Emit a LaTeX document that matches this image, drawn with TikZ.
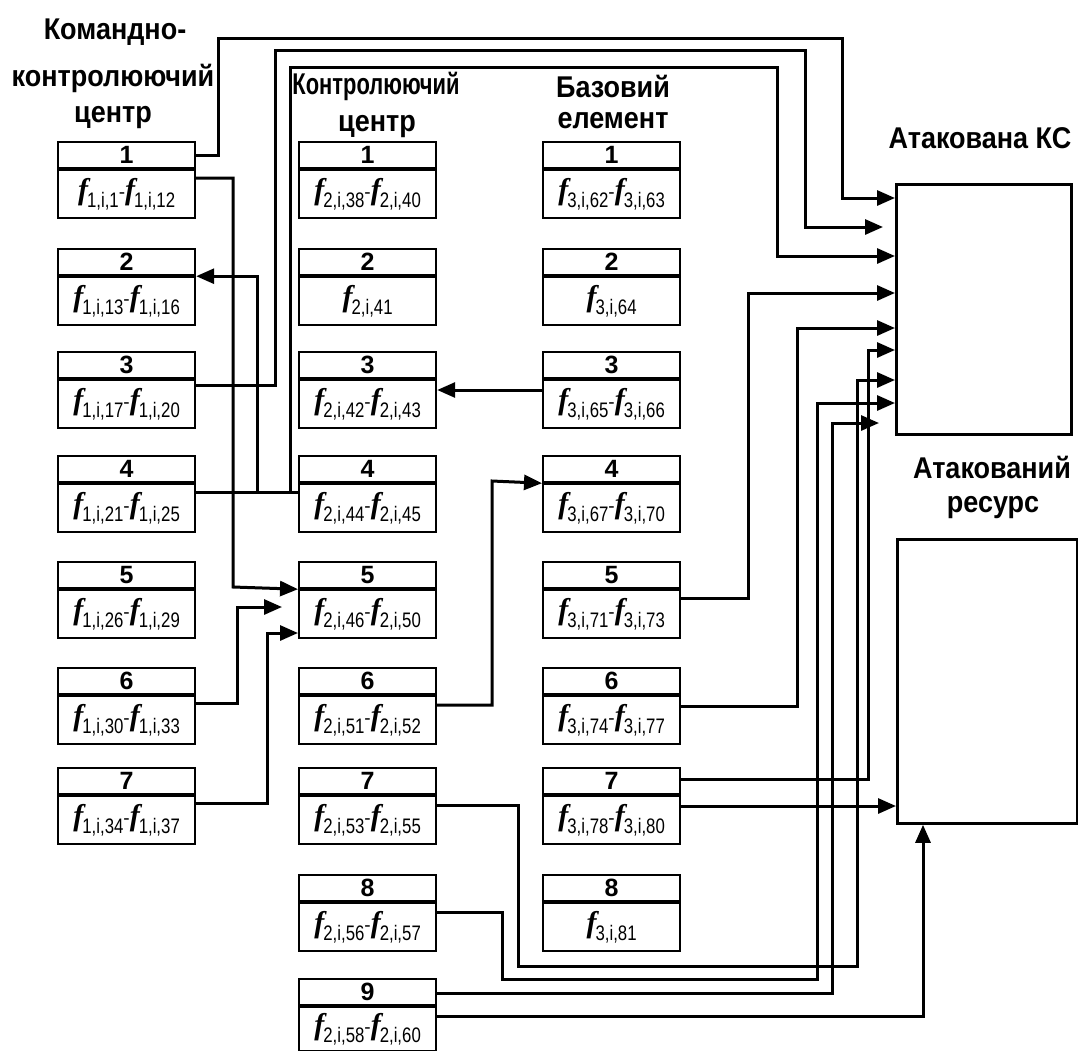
\documentclass[tikz,border=0pt]{standalone}
\usepackage{fontspec}
\setmainfont{Liberation Sans}
\usetikzlibrary{arrows.meta}
\newfontfamily\labfont[FakeStretch=0.9]{Liberation Sans Bold}
\newfontfamily\labcond[FakeStretch=0.73]{Liberation Sans Bold}
\newfontfamily\fserif{Liberation Serif}
\newfontfamily\subfont[FakeStretch=0.8]{Liberation Sans}
\newcommand\fterm[1]{{\fserif\bfseries\itshape\fontsize{30}{30}\selectfont f}\kern-1pt\raisebox{-8pt}{\subfont\fontsize{21}{21}\selectfont #1}}
\newcommand\frng[2]{\fterm{#1}\raisebox{1pt}{\fontsize{19}{19}\selectfont -}\fterm{#2}}
\tikzset{
 hdr/.style={draw, line width=2.2pt, minimum width=137pt, minimum height=26pt, inner sep=0pt, anchor=north west, font=\fontsize{25}{25}\selectfont\bfseries},
 bdy/.style={draw, line width=2.2pt, minimum width=137pt, minimum height=48pt, inner sep=0pt, anchor=north},
 conn/.style={line width=3pt},
 arr/.style={conn, -{Triangle[length=18pt,width=15pt]}},
 lbl/.style={font=\labfont\fontsize{30}{30}\selectfont, inner sep=0pt},
 lblc/.style={font=\labcond\fontsize{30}{30}\selectfont, inner sep=0pt},
 bigbox/.style={draw, line width=2.8pt, anchor=north west, inner sep=0pt}
}
\newcommand\fbunit[5]{\node[hdr] (h#1) at (#2,#3) {#4}; \node[bdy] (b#1) at (h#1.south) {#5};}
\begin{document}
\begin{tikzpicture}[x=1pt,y=-1pt]
\useasboundingbox (0,0) rectangle (1078,1050);
% labels
\node[lbl] (t1) at (115,32) {Командно-};
\node[lbl] (t2) at (113,78) {контролюючий};
\node[lbl] (t3) at (113,118) {центр};
\node[lblc] (t4) at (376,86) {Контролюючий};
\node[lbl] (t5) at (377,127) {центр};
\node[lbl] (t6) at (613,86) {Базовий};
\node[lbl] (t7) at (613,121) {елемент};
\node[lbl] (t8) at (980,138) {Атакована КС};
\node[lbl] (t9) at (992,467) {Атакований};
\node[lbl] (t10) at (993,508) {ресурс};
% column 1
\fbunit{11}{57}{141}{1}{\frng{1,i,1}{1,i,12}}
\fbunit{12}{57}{248}{2}{\frng{1,i,13}{1,i,16}}
\fbunit{13}{57}{351}{3}{\frng{1,i,17}{1,i,20}}
\fbunit{14}{57}{455}{4}{\frng{1,i,21}{1,i,25}}
\fbunit{15}{57}{561}{5}{\frng{1,i,26}{1,i,29}}
\fbunit{16}{57}{667}{6}{\frng{1,i,30}{1,i,33}}
\fbunit{17}{57}{767}{7}{\frng{1,i,34}{1,i,37}}
% column 2
\fbunit{21}{298}{141}{1}{\frng{2,i,38}{2,i,40}}
\fbunit{22}{298}{248}{2}{\fterm{2,i,41}}
\fbunit{23}{298}{351}{3}{\frng{2,i,42}{2,i,43}}
\fbunit{24}{298}{455}{4}{\frng{2,i,44}{2,i,45}}
\fbunit{25}{298}{561}{5}{\frng{2,i,46}{2,i,50}}
\fbunit{26}{298}{667}{6}{\frng{2,i,51}{2,i,52}}
\fbunit{27}{298}{767}{7}{\frng{2,i,53}{2,i,55}}
\fbunit{28}{298}{874}{8}{\frng{2,i,56}{2,i,57}}
\node[hdr] (h29) at (298,978) {9};
\node[bdy, minimum height=44pt] (b29) at (h29.south) {\frng{2,i,58}{2,i,60}};
% column 3
\fbunit{31}{542}{141}{1}{\frng{3,i,62}{3,i,63}}
\fbunit{32}{542}{248}{2}{\fterm{3,i,64}}
\fbunit{33}{542}{351}{3}{\frng{3,i,65}{3,i,66}}
\fbunit{34}{542}{455}{4}{\frng{3,i,67}{3,i,70}}
\fbunit{35}{542}{561}{5}{\frng{3,i,71}{3,i,73}}
\fbunit{36}{542}{667}{6}{\frng{3,i,74}{3,i,77}}
\fbunit{37}{542}{767}{7}{\frng{3,i,78}{3,i,80}}
\fbunit{38}{542}{874}{8}{\fterm{3,i,81}}
% targets
\node[bigbox, minimum width=175pt, minimum height=250pt] (ks) at (895,183) {};
\node[bigbox, minimum width=180pt, minimum height=284pt] (res) at (896,538) {};
% free ends
\coordinate (e4) at (883,227);
\coordinate (e5) at (282,607);
\coordinate (e11) at (879,423);
% connectors
\draw[arr] (h11.east) -| (218,38) -| (842,198) -- (ks.west |- 0,198);
\draw[arr] (b11.east |- 0,178) -| (233,587) -- (h25.south west);
\draw[conn] (b14.east |- 0,492) -- (b24.west |- 0,492);
\draw[arr] (257,492) |- (h12.south east);
\draw[arr] (290,492) |- (777,67) |- (ks.west |- 0,256);
\draw[arr] (b13.east |- 0,385) -| (275,50) -| (805,227) -- (e4);
\draw[arr] (b16.east |- 0,703) -| (237,607) -- (e5);
\draw[arr] (b17.east |- 0,803) -| (267,633) -- (b25.west |- 0,633);
\draw[arr] (b33.west |- 0,390) -- (b23.east |- 0,390);
\draw[arr] (b26.east |- 0,705) -| (492,481) -- (h34.south west);
\draw[arr] (b27.east |- 0,805) -| (518,966) -| (857,380) -- (ks.west |- 0,380);
\draw[arr] (b28.east |- 0,912) -| (502,979) -| (817,403) -- (ks.west |- 0,403);
\draw[arr] (h29.east |- 0,993) -| (832,423) -- (e11);
\draw[arr] (b29.east |- 0,1016) -| (923,0 |- res.south);
\draw[arr] (b35.east |- 0,598) -| (748,293) -- (ks.west |- 0,293);
\draw[arr] (b36.east |- 0,706) -| (797,328) -- (ks.west |- 0,328);
\draw[arr] (h37.east |- 0,779) -| (868,350) -- (ks.west |- 0,350);
\draw[arr] (b37.east |- 0,806) -- (res.west |- 0,806);
\end{tikzpicture}
\end{document}
